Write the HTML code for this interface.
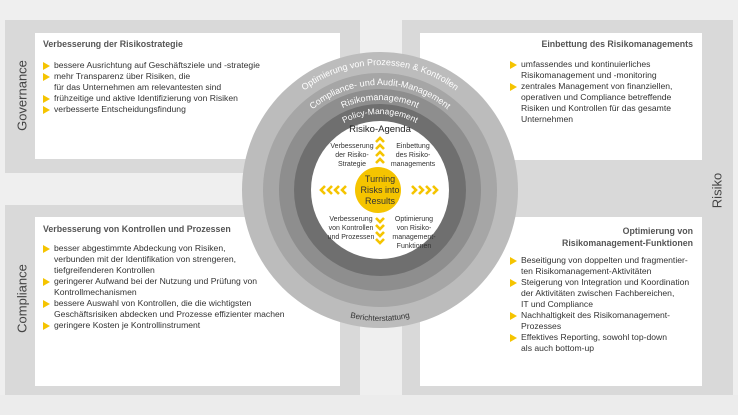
<!DOCTYPE html>
<html><head><meta charset="utf-8"><style>
html,body{margin:0;padding:0}
body{width:738px;height:415px;position:relative;background:#efefef;font-family:"Liberation Sans",sans-serif;overflow:hidden;color:#333}
.fr{position:absolute;background:#d9d9d9}
.wb{position:absolute;background:#fff}
.t{position:absolute;font-size:8.6px;line-height:11px;color:#333;white-space:nowrap}
.h{font-weight:bold;color:#555;font-size:8.8px}
.b{position:relative;padding-left:11px}
.b:before{content:"";position:absolute;left:0;top:1.5px;border-left:7px solid #f5c400;border-top:4px solid transparent;border-bottom:4px solid transparent}
.vl{position:absolute;font-size:13px;color:#444;transform:rotate(-90deg);transform-origin:center;white-space:nowrap}
</style></head><body>
<div class="fr" style="left:5px;top:20px;width:355px;height:153px"></div>
<div class="fr" style="left:5px;top:205px;width:355px;height:190px"></div>
<div class="fr" style="left:402px;top:20px;width:331px;height:375px"></div>
<div class="wb" style="left:35px;top:33px;width:305px;height:126px"></div>
<div class="wb" style="left:35px;top:217px;width:305px;height:169px"></div>
<div class="wb" style="left:420px;top:33px;width:282px;height:127px"></div>
<div class="wb" style="left:420px;top:217px;width:282px;height:169px"></div>
<div style="position:absolute;left:0;top:395px;width:738px;height:20px;background:#ececec"></div>

<div class="vl" style="left:-18px;top:88px;width:80px;text-align:center">Governance</div>
<div class="vl" style="left:-18px;top:291px;width:80px;text-align:center">Compliance</div>
<div class="vl" style="left:687px;top:183px;width:60px;text-align:center">Risiko</div>

<div class="t" style="left:43px;top:39px"><div class="h">Verbesserung der Risikostrategie</div>
<div style="height:10px"></div>
<div class="b">bessere Ausrichtung auf Geschäftsziele und -strategie</div>
<div class="b">mehr Transparenz über Risiken, die<br>für das Unternehmen am relevantesten sind</div>
<div class="b">frühzeitige und aktive Identifizierung von Risiken</div>
<div class="b">verbesserte Entscheidungsfindung</div></div>

<div class="t" style="left:43px;top:224px"><div class="h">Verbesserung von Kontrollen und Prozessen</div>
<div style="height:8px"></div>
<div class="b">besser abgestimmte Abdeckung von Risiken,<br>verbunden mit der Identifikation von strengeren,<br>tiefgreifenderen Kontrollen</div>
<div class="b">geringerer Aufwand bei der Nutzung und Prüfung von<br>Kontrollmechanismen</div>
<div class="b">bessere Auswahl von Kontrollen, die die wichtigsten<br>Geschäftsrisiken abdecken und Prozesse effizienter machen</div>
<div class="b">geringere Kosten je Kontrollinstrument</div></div>

<div class="t h" style="left:420px;width:273px;top:39px;text-align:right">Einbettung des Risikomanagements</div>
<div class="t" style="left:510px;top:59px">
<div class="b">umfassendes und kontinuierliches<br>Risikomanagement und -monitoring</div>
<div class="b">zentrales Management von finanziellen,<br>operativen und Compliance betreffende<br>Risiken und Kontrollen für das gesamte<br>Unternehmen</div></div>

<div class="t h" style="left:420px;width:273px;top:225px;text-align:right;line-height:12px">Optimierung von<br>Risikomanagement-Funktionen</div>
<div class="t" style="left:510px;top:255px">
<div class="b">Beseitigung von doppelten und fragmentier-<br>ten Risikomanagement-Aktivitäten</div>
<div class="b">Steigerung von Integration und Koordination<br>der Aktivitäten zwischen Fachbereichen,<br>IT und Compliance</div>
<div class="b">Nachhaltigkeit des Risikomanagement-<br>Prozesses</div>
<div class="b">Effektives Reporting, sowohl top-down<br>als auch bottom-up</div></div>

<svg style="position:absolute;left:0;top:0" width="738" height="415" font-family="Liberation Sans, sans-serif">
<defs>
<path id="a1" d="M255,190 A125,125 0 0 1 505,190"/>
<path id="a2" d="M275,190 A105,105 0 0 1 485,190"/>
<path id="a3" d="M290,190 A90,90 0 0 1 470,190"/>
<path id="a4" d="M304,190 A76,76 0 0 1 456,190"/>
<path id="a5" d="M249,190 A131,131 0 0 0 511,190"/>
</defs>
<circle cx="380" cy="190" r="138" fill="#bcbcbc"/>
<circle cx="380" cy="190" r="117" fill="#a6a6a6"/>
<circle cx="380" cy="190" r="101" fill="#8e8e8e"/>
<circle cx="380" cy="190" r="86" fill="#6f6f6f"/>
<circle cx="380" cy="190" r="69" fill="#fff"/>
<g fill="#fff" font-size="9">
<text><textPath href="#a1" startOffset="50%" text-anchor="middle">Optimierung von Prozessen &amp; Kontrollen</textPath></text>
<text><textPath href="#a2" startOffset="50%" text-anchor="middle">Compliance- und Audit-Management</textPath></text>
<text><textPath href="#a3" startOffset="50%" text-anchor="middle">Risikomanagement</textPath></text>
<text font-size="8.5"><textPath href="#a4" startOffset="50%" text-anchor="middle">Policy-Management</textPath></text>
</g>
<text font-size="8" fill="#333"><textPath href="#a5" startOffset="50%" text-anchor="middle">Berichterstattung</textPath></text>
<circle cx="378" cy="190" r="23" fill="#f5c400"/>
<g font-size="9" fill="#333" text-anchor="middle">
<text x="380" y="182">Turning</text><text x="380" y="193">Risks into</text><text x="380" y="204">Results</text>
</g>
<text x="380" y="132" font-size="9.5" fill="#222" text-anchor="middle">Risiko-Agenda</text>
<g font-size="7" fill="#333" text-anchor="middle">
<text x="352" y="148">Verbesserung</text><text x="352" y="157">der Risiko-</text><text x="352" y="166">Strategie</text>
<text x="413" y="148">Einbettung</text><text x="413" y="157">des Risiko-</text><text x="413" y="166">managements</text>
<text x="351" y="221">Verbesserung</text><text x="351" y="230">von Kontrollen</text><text x="351" y="239">und Prozessen</text>
<text x="414" y="221">Optimierung</text><text x="414" y="230">von Risiko-</text><text x="414" y="239">management-</text><text x="414" y="248">Funktionen</text>
</g>
<g fill="none" stroke="#f5c400" stroke-width="2.6">
<path d="M376,142 l4,-4 l4,4 M376,149 l4,-4 l4,4 M376,156 l4,-4 l4,4 M376,163 l4,-4 l4,4"/>
<path d="M376,218 l4,4 l4,-4 M376,225 l4,4 l4,-4 M376,232 l4,4 l4,-4 M376,239 l4,4 l4,-4"/>
<path d="M325,186 l-4,4 l4,4 M332,186 l-4,4 l4,4 M339,186 l-4,4 l4,4 M346,186 l-4,4 l4,4"/>
<path d="M412,186 l4,4 l-4,4 M419,186 l4,4 l-4,4 M426,186 l4,4 l-4,4 M433,186 l4,4 l-4,4"/>
</g>
</svg>
</body></html>
